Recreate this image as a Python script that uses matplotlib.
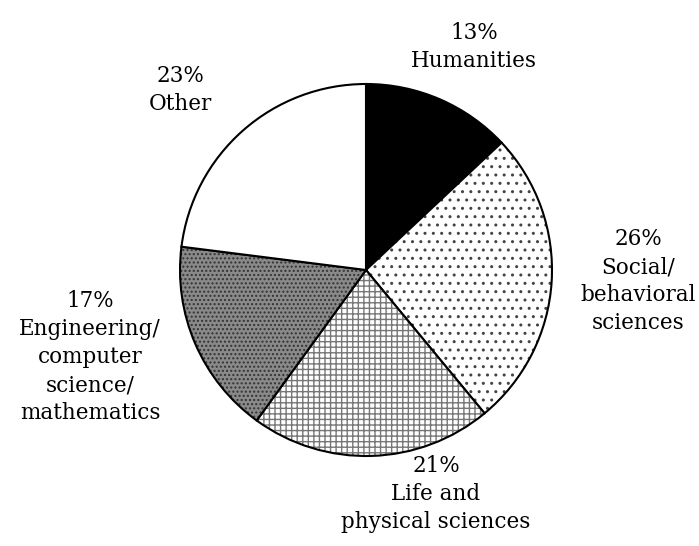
import matplotlib
matplotlib.use("Agg")
import matplotlib.pyplot as plt

categories = ["Humanities", "Social/\nbehavioral\nsciences", "Life and\nphysical sciences",
              "Engineering/\ncomputer\nscience/\nmathematics", "Other"]
values = [13, 26, 21, 17, 23]

faces = ["black", "white", "white", "#8a8a8a", "white"]
hatches = [None, "..", "+++", "....", None]
hatch_colors = ["black", "#444444", "#777777", "#333333", "black"]

# label anchor positions in pixels (center of text block, top of block)
label_pos_px = [(474, 22), (638, 228), (436, 455), (90, 290), (180, 65)]

W, H = 699, 546
fig = plt.figure(figsize=(W / 100, H / 100), dpi=100)
cx, cy, r = 366, 270, 186
ax = fig.add_axes([(cx - r) / W, (H - cy - r) / H, 2 * r / W, 2 * r / H])

wedges, _ = ax.pie(values, startangle=90, counterclock=False, colors=faces,
                   wedgeprops=dict(edgecolor="black", linewidth=1.5))
for w, h, hc in zip(wedges, hatches, hatch_colors):
    if h:
        w.set_hatch(h)
        w.set_hatch_linewidth(1.0)
        w._hatch_color = matplotlib.colors.to_rgba(hc)
ax.set_xlim(-1, 1)
ax.set_ylim(-1, 1)
ax.set_aspect("equal")
ax.axis("off")

for cat, v, (px, py) in zip(categories, values, label_pos_px):
    fig.text(px / W, 1 - py / H, f"{v}%\n{cat}", ha="center", va="top",
             fontsize=15.5, family="DejaVu Serif", linespacing=1.36)

fig.savefig("out.png", dpi=100)
